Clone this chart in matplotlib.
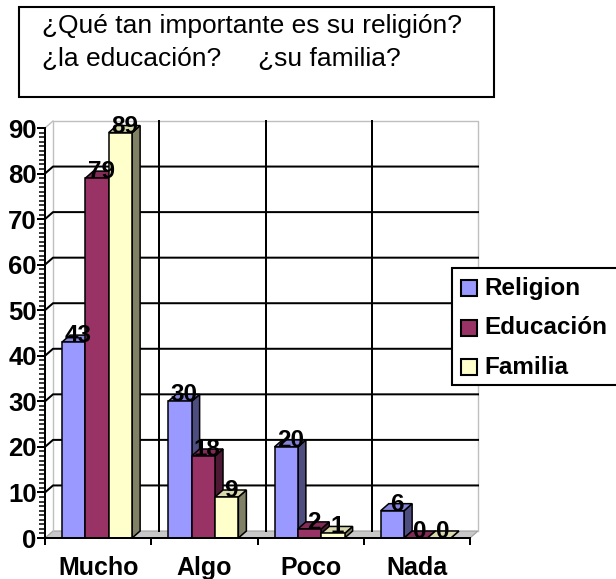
import matplotlib
matplotlib.use("Agg")
import matplotlib.pyplot as plt
from matplotlib.patches import Rectangle, Polygon
import numpy as np

# data
categories = ["Mucho", "Algo", "Poco", "Nada"]
series_names = ["Religion", "Educación", "Familia"]
religion = [43, 30, 20, 6]
educacion = [79, 18, 2, 0]
familia = [89, 9, 1, 0]
values = [religion, educacion, familia]
colors = ["#9999FF", "#993366", "#FFFFCC"]
title_lines = ["¿Qué tan importante es su religión?",
               "¿la educación?     ¿su familia?"]

plt.rcParams["font.family"] = ["Liberation Sans", "DejaVu Sans"]

W, H = 616, 579
fig = plt.figure(figsize=(W / 100, H / 100), dpi=100)


def fx(x):
    return x / W


def fy(y):
    return 1 - y / H


def shade(c, f):
    rgb = np.array(matplotlib.colors.to_rgb(c))
    return tuple(rgb * f)


# plot area (front plane) in pixels
left, right, bottom, top = 45, 470, 538, 128
ax = fig.add_axes([fx(left), fy(bottom), (right - left) / W, (bottom - top) / H])
ax.set_xlim(0, 4)
ax.set_ylim(0, 90)
ax.patch.set_alpha(0)

# 3d depth offsets in data units
dx = 8 / ((right - left) / 4)
dy = 7 / ((bottom - top) / 90)

lw = 1.44
gray = "#BFBFBF"

# back wall and floor
ax.add_patch(Polygon([(0, 0), (4, 0), (4 + dx, dy), (dx, dy)], closed=True,
                     facecolor="#C8C8C8", edgecolor="#A0A0A0", lw=0.8, zorder=1, clip_on=False))
ax.plot([dx, dx, 4 + dx, 4 + dx], [dy, 90 + dy, 90 + dy, dy], color=gray, lw=1, zorder=1, clip_on=False)
ax.plot([0, dx], [90, 90 + dy], color=gray, lw=1, zorder=1, clip_on=False)
for v in range(10, 90, 10):
    ax.plot([0, dx, 4 + dx], [v, v + dy, v + dy], color="black", lw=lw, zorder=1.5, clip_on=False)
for c in range(1, 4):
    ax.plot([c + dx, c + dx], [dy, 90 + dy], color="black", lw=lw, zorder=1.5, clip_on=False)

# bars with fake 3d sides
offset, width = 0.16, 0.22
for k, (name, vals, col) in enumerate(zip(series_names, values, colors)):
    xs = np.arange(len(categories)) + offset + k * width
    ax.bar(xs, vals, width=width, align="edge", color=col, edgecolor="black",
           lw=1.1, zorder=3 + k * 0.01, clip_on=False)
    for x0, v in zip(xs, vals):
        side = [(x0 + width, 0), (x0 + width + dx, dy), (x0 + width + dx, v + dy), (x0 + width, v)]
        topf = [(x0, v), (x0 + dx, v + dy), (x0 + width + dx, v + dy), (x0 + width, v)]
        ax.add_patch(Polygon(side, closed=True, facecolor=shade(col, 0.5), edgecolor="black",
                             lw=1.1, zorder=2.9 + k * 0.01, clip_on=False))
        ax.add_patch(Polygon(topf, closed=True, facecolor=shade(col, 0.85), edgecolor="black",
                             lw=1.1, zorder=2.9 + k * 0.01, clip_on=False))
    for x0, v in zip(xs, vals):
        ax.text(x0 + width / 2 + dx / 2, v, str(v), ha="center", va="baseline",
                fontsize=17.5, fontweight="bold", zorder=6, clip_on=False)

# axes styling
for s in ["top", "right"]:
    ax.spines[s].set_visible(False)
for s in ["left", "bottom"]:
    ax.spines[s].set_linewidth(lw)
    ax.spines[s].set_zorder(4)
ax.set_yticks(range(0, 91, 10))
ax.set_yticks(range(0, 91, 1), minor=True)
ax.tick_params(axis="y", which="major", length=6, width=lw, pad=0, labelsize=18.5)
ax.tick_params(axis="y", which="minor", length=4, width=1.1)
ax.set_xticks(np.arange(len(categories)) + 0.5)
ax.set_xticklabels(categories)
ax.set_xticks(range(0, 5), minor=True)
ax.tick_params(axis="x", which="major", length=0, pad=13, labelsize=18)
ax.tick_params(axis="x", which="minor", length=5, width=lw)
for t in ax.get_xticklabels() + ax.get_yticklabels():
    t.set_fontweight("bold")

# title box
fig.patches.append(Rectangle((fx(19), fy(97)), (494 - 19) / W, 90 / H, transform=fig.transFigure,
                             facecolor="white", edgecolor="black", lw=1.5))
fig.text(fx(42), fy(33), title_lines[0], fontsize=19, va="baseline", ha="left")
fig.text(fx(42), fy(66), title_lines[1], fontsize=19, va="baseline", ha="left")

# legend box
fig.patches.append(Rectangle((fx(452), fy(385)), (W + 10 - 452) / W, (385 - 268) / H,
                             transform=fig.transFigure, facecolor="white", edgecolor="black",
                             lw=1.5, clip_on=False))
for k, (name, col) in enumerate(zip(series_names, colors)):
    yc = 288 + k * 39.5
    fig.patches.append(Rectangle((fx(461), fy(yc + 8)), 16 / W, 16 / H, transform=fig.transFigure,
                                 facecolor=col, edgecolor="black", lw=1.5))
    fig.text(fx(484), fy(yc), name, fontsize=17.5, fontweight="bold", va="center", ha="left")

fig.savefig("out.png", dpi=100)
